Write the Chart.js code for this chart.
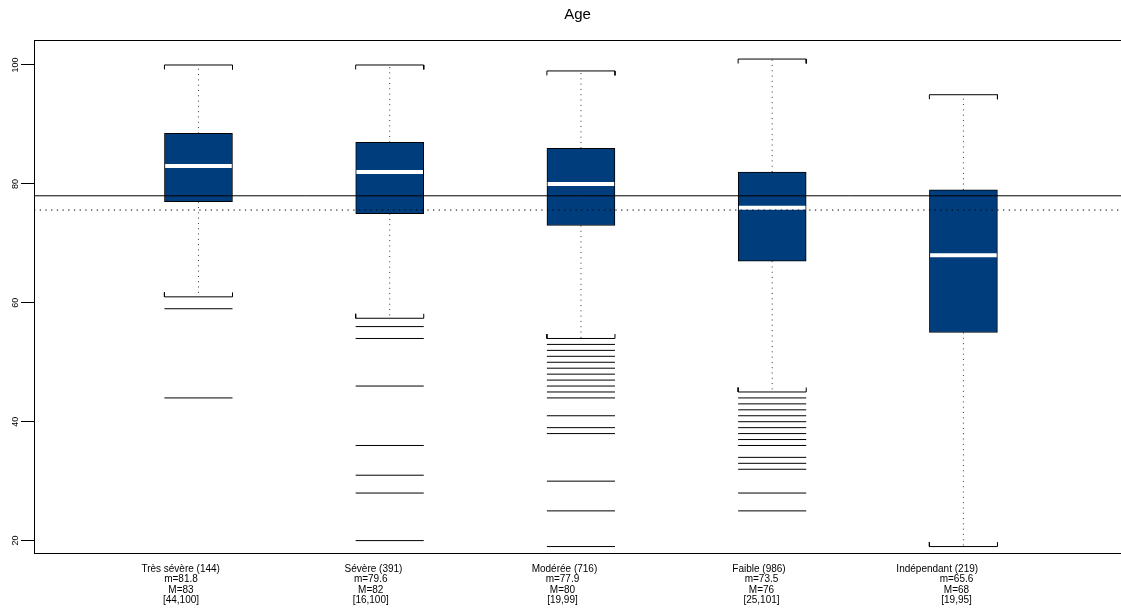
<!DOCTYPE html>
<html>
<head>
<meta charset="utf-8">
<title>Age</title>
<script src="https://cdn.jsdelivr.net/npm/chart.js@4.4.1/dist/chart.umd.min.js"></script>
<style>
  html, body { margin: 0; padding: 0; background: #fff; }
  #wrap { width: 1121px; height: 609px; position: relative; }
</style>
</head>
<body>
<div id="wrap"><canvas id="chart"></canvas></div>
<script>
// boxplot of age per dependency group

const categories = ['Très sévère', 'Sévère', 'Modérée', 'Faible', 'Indépendant'];
const counts = [144, 391, 716, 986, 219];
const means = [81.8, 79.6, 77.9, 73.5, 65.6];
const medians = [83, 82, 80, 76, 68];
const mins = [44, 16, 19, 25, 19];
const maxs = [100, 100, 99, 101, 95];

const q1 = [77, 75, 73, 67, 55];
const q3 = [88.5, 87, 86, 82, 79];
const whiskerLow = [61, 57.4, 54, 45, 19];
const whiskerHigh = [100, 100, 99, 101, 95];
const outliers = [
  [59, 44],
  [56, 54, 46, 36, 31, 28, 20, 16],
  [53, 52, 51, 50, 49, 48, 47, 46, 45, 44, 41, 39, 38, 30, 25, 19],
  [44, 43, 42, 41, 40, 39, 38, 37, 36, 34, 33, 32, 28, 25],
  []
];

const overallMedian = 78;
const overallMean = 75.6;
const yTicks = [20, 40, 60, 80, 100];

// layout / style
const X_MIN = 0.14, X_MAX = 5.824;
const Y_MIN = 17.915, Y_MAX = 104.205;
const HALF = 0.178;      // half box width, x units
const CAP_TICK = 0.75;   // bracket end length, y units
const BOX_COLOR = '#003d7d';
const LABEL_DX = [[-17.8, -17.5], [-16.2, -19], [-16.5, -18.5], [-13.2, -10.7], [-26.2, -6.9]];

const gap = (x) => ({ x: x, y: null });

const boxData = categories.map((c, i) => ({ x: i + 1, y: [q1[i], q3[i]] }));

const medianPts = [];
const whiskerPts = [];
const capPts = [];
const outlierPts = [];
categories.forEach((c, i) => {
  const x = i + 1;
  medianPts.push({ x: x - HALF + 0.004, y: medians[i] }, { x: x + HALF - 0.004, y: medians[i] }, gap(x));
  whiskerPts.push({ x: x, y: q3[i] }, { x: x, y: whiskerHigh[i] }, gap(x));
  whiskerPts.push({ x: x, y: q1[i] }, { x: x, y: whiskerLow[i] }, gap(x));
  capPts.push(
    { x: x - HALF, y: whiskerHigh[i] - CAP_TICK }, { x: x - HALF, y: whiskerHigh[i] },
    { x: x + HALF, y: whiskerHigh[i] }, { x: x + HALF, y: whiskerHigh[i] - CAP_TICK }, gap(x));
  capPts.push(
    { x: x - HALF, y: whiskerLow[i] + CAP_TICK }, { x: x - HALF, y: whiskerLow[i] },
    { x: x + HALF, y: whiskerLow[i] }, { x: x + HALF, y: whiskerLow[i] + CAP_TICK }, gap(x));
  outliers[i].forEach(v => {
    outlierPts.push({ x: x - HALF, y: v }, { x: x + HALF, y: v }, gap(x));
  });
});

const lineBase = {
  type: 'line', pointRadius: 0, pointHoverRadius: 0, tension: 0,
  spanGaps: false, fill: false, borderColor: '#000', borderWidth: 1
};

const groupLabels = {
  id: 'groupLabels',
  afterDraw(chart) {
    const { ctx, scales: { x } } = chart;
    ctx.save();
    ctx.font = '10px "Liberation Sans", Arial, sans-serif';
    ctx.fillStyle = '#000';
    ctx.textAlign = 'center';
    ctx.textBaseline = 'alphabetic';
    categories.forEach((c, i) => {
      const px = x.getPixelForValue(i + 1);
      const lines = [`${c} (${counts[i]})`, `m=${means[i]}`, `M=${medians[i]}`, `[${mins[i]},${maxs[i]}]`];
      lines.forEach((t, k) => {
        const dx = k === 0 ? LABEL_DX[i][0] : LABEL_DX[i][1];
        ctx.fillText(t, px + dx, 572 + k * 10.4);
      });
    });
    ctx.restore();
  }
};

new Chart(document.getElementById('chart'), {
  type: 'bar',
  data: {
    datasets: [
      {
        type: 'bar', label: 'box', data: boxData, order: 10,
        backgroundColor: BOX_COLOR, borderColor: '#000', borderWidth: 1,
        borderSkipped: false, barThickness: 68
      },
      { ...lineBase, label: 'whiskers', data: whiskerPts, order: 12, borderDash: [1, 4.3], borderColor: '#333' },
      { ...lineBase, label: 'caps', data: capPts, order: 6 },
      { ...lineBase, label: 'outliers', data: outlierPts, order: 6 },
      { ...lineBase, label: 'medians', data: medianPts, order: 5, borderColor: '#fff', borderWidth: 4 },
      { ...lineBase, label: 'median', data: [{ x: X_MIN, y: overallMedian }, { x: X_MAX, y: overallMedian }], order: 4 },
      { ...lineBase, label: 'mean', data: [{ x: X_MIN, y: overallMean }, { x: X_MAX, y: overallMean }], order: 4, borderDash: [1.3, 4.4] }
    ]
  },
  options: {
    responsive: true,
    maintainAspectRatio: false,
    animation: false,
    events: [],
    layout: { padding: 0 },
    plugins: {
      legend: { display: false },
      tooltip: { enabled: false },
      title: {
        display: true, text: 'Age', fullSize: false, color: '#000',
        font: { family: '"Liberation Sans", Arial, sans-serif', size: 15, weight: 'normal', lineHeight: 1.2 },
        padding: { top: 6, bottom: 16 }
      }
    },
    scales: {
      x: {
        type: 'linear', position: 'bottom', min: X_MIN, max: X_MAX, offset: false,
        grid: { display: false },
        ticks: { display: false },
        border: { display: true, color: '#000', width: 1 },
        afterFit: (s) => { s.height = 56; }
      },
      x2: {
        type: 'linear', position: 'top', min: 0, max: 1,
        grid: { display: false, drawTicks: false },
        ticks: { display: false },
        border: { display: true, color: '#000', width: 1 },
        afterFit: (s) => { s.height = 0; }
      },
      y: {
        type: 'linear', position: 'left', min: Y_MIN, max: Y_MAX,
        afterBuildTicks: (s) => { s.ticks = yTicks.map(v => ({ value: v })); },
        grid: { display: true, drawOnChartArea: false, drawTicks: true, tickLength: 13, tickColor: '#000' },
        border: { display: true, color: '#000', width: 1 },
        ticks: {
          minRotation: 90, maxRotation: 90, crossAlign: 'center', padding: -2,
          color: '#000', font: { family: '"Liberation Sans", Arial, sans-serif', size: 9 }
        },
        afterFit: (s) => { s.width = 34; }
      }
    }
  },
  plugins: [groupLabels]
});
</script>
</body>
</html>
